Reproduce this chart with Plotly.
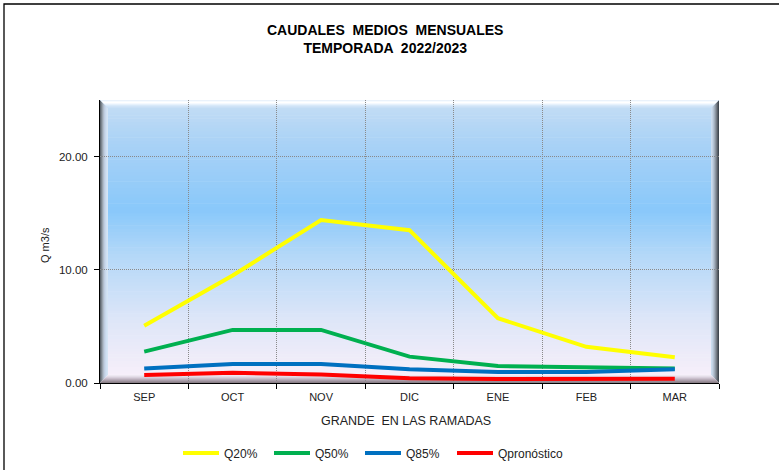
import plotly.graph_objects as go

months = ["SEP", "OCT", "NOV", "DIC", "ENE", "FEB", "MAR"]
q20 = [5.05, 9.5, 14.4, 13.5, 5.72, 3.2, 2.27]
q50 = [2.77, 4.69, 4.69, 2.33, 1.5, 1.39, 1.27]
q85 = [1.27, 1.68, 1.68, 1.21, 0.97, 0.97, 1.21]
qpron = [0.71, 0.91, 0.74, 0.41, 0.35, 0.35, 0.38]

series = [
    ("Q20%", q20, "#FFFF00", "legend"),
    ("Q50%", q50, "#00B050", "legend"),
    ("Q85%", q85, "#0070C0", "legend"),
    ("Qpronóstico", qpron, "#FF0000", "legend2"),
]

W, H = 779, 470
ML, MR, MT, MB = 100, 60, 100, 87
PW = W - ML - MR
PH = H - MT - MB

fig = go.Figure()
for name, vals, col, lg in series:
    fig.add_trace(go.Scatter(x=months, y=vals, name=name, mode="lines",
                             legend=lg, line=dict(color=col, width=4)))

# background gradient (bottom -> top)
stops = [
    (0.00, (250, 240, 250)),
    (0.22, (222, 230, 248)),
    (0.45, (180, 216, 248)),
    (0.61, (137, 200, 250)),
    (0.85, (170, 210, 246)),
    (1.00, (198, 222, 244)),
]


def interp(t):
    for (t0, c0), (t1, c1) in zip(stops[:-1], stops[1:]):
        if t0 <= t <= t1:
            f = (t - t0) / (t1 - t0)
            return "rgb(%d,%d,%d)" % tuple(round(a + (b - a) * f) for a, b in zip(c0, c1))
    return "rgb(%d,%d,%d)" % stops[-1][1]


shapes = []
N = 90
for i in range(N):
    y0 = i / N
    y1 = (i + 1) / N + 0.002
    shapes.append(dict(type="rect", xref="x domain", yref="y domain",
                       x0=0, x1=1, y0=y0, y1=min(y1, 1), layer="below",
                       line=dict(width=0), fillcolor=interp((i + 0.5) / N)))

# bevel
dx = 1.0 / PW
dy = 1.0 / PH
B = 8
left_cols = ["#5f6870", "#7c858e", "#98a3ae", "#b0bccb", "#bfcde0", "#c8d8ec", "#cfe0f2", "#d4e4f4"]
top_cols = ["#eaf2fb", "#f7fbff", "#ffffff", "#f4f9ff", "#e6f1fc", "#d8e9f9", "#cfe3f7", "#c9dff5"]
right_cols = ["#404850", "#5a6068", "#747c86", "#8c96a2", "#a2aebc", "#b4c2d2", "#c2d2e4", "#cadcee"]
bot_cols = ["#8a8088", "#9a8e98", "#aa9eaa", "#baaebb", "#cabfcc", "#d8cfdc", "#e4dde8", "#eee8f2"]
for k in range(B):
    a, b = k, k + 1
    shapes.append(dict(type="path", xref="x domain", yref="y domain", layer="below",
                       line=dict(width=0), fillcolor=left_cols[k],
                       path=f"M {a*dx},{1-a*dy} L {b*dx},{1-b*dy} L {b*dx},{b*dy} L {a*dx},{a*dy} Z"))
    shapes.append(dict(type="path", xref="x domain", yref="y domain", layer="below",
                       line=dict(width=0), fillcolor=right_cols[k],
                       path=f"M {1-a*dx},{1-a*dy} L {1-b*dx},{1-b*dy} L {1-b*dx},{b*dy} L {1-a*dx},{a*dy} Z"))
    shapes.append(dict(type="path", xref="x domain", yref="y domain", layer="below",
                       line=dict(width=0), fillcolor=top_cols[k],
                       path=f"M {a*dx},{1-a*dy} L {1-a*dx},{1-a*dy} L {1-b*dx},{1-b*dy} L {b*dx},{1-b*dy} Z"))
    shapes.append(dict(type="path", xref="x domain", yref="y domain", layer="below",
                       line=dict(width=0), fillcolor=bot_cols[k],
                       path=f"M {a*dx},{a*dy} L {1-a*dx},{a*dy} L {1-b*dx},{b*dy} L {b*dx},{b*dy} Z"))

# outer frame of the chart
shapes.append(dict(type="rect", xref="paper", yref="paper",
                   x0=(4 - ML) / PW, x1=(W + 10 - ML) / PW,
                   y0=-(H + 10 - MT - PH) / PH, y1=(PH + MT - 4) / PH,
                   line=dict(color="#000000", width=1.3), fillcolor="rgba(0,0,0,0)", layer="above"))

font_family = "Liberation Sans, Arial, sans-serif"

annotations = [
    dict(text="<b>CAUDALES  MEDIOS  MENSUALES</b><br><b>TEMPORADA  2022/2023</b>",
         xref="paper", yref="paper", x=(385 - ML) / PW, y=(MT + PH - 39) / PH,
         xanchor="center", yanchor="middle", showarrow=False,
         font=dict(family=font_family, size=14, color="#000000")),
    dict(text="GRANDE  EN LAS RAMADAS", xref="paper", yref="paper",
         x=(406 - ML) / PW, y=-(421 - MT - PH) / PH, xanchor="center", yanchor="middle",
         showarrow=False, font=dict(family=font_family, size=12.5, color="#222222")),
    dict(text="Q m3/s", xref="paper", yref="paper", textangle=-90,
         x=(45 - ML) / PW, y=(MT + PH - 245) / PH, xanchor="center", yanchor="middle",
         showarrow=False, font=dict(family=font_family, size=11, color="#222222")),
]

legend_font = dict(family=font_family, size=12, color="#222222")

fig.update_layout(
    width=W, height=H,
    margin=dict(l=ML, r=MR, t=MT, b=MB),
    paper_bgcolor="#ffffff",
    plot_bgcolor="#ffffff",
    shapes=shapes,
    annotations=annotations,
    showlegend=True,
    legend=dict(orientation="h", xref="container", yref="container",
                x=178 / W, xanchor="left", y=(H - 453) / H, yanchor="middle",
                font=legend_font, entrywidth=40, entrywidthmode="pixels",
                itemwidth=36, bgcolor="rgba(0,0,0,0)"),
    legend2=dict(orientation="h", xref="container", yref="container",
                 x=452 / W, xanchor="left", y=(H - 453) / H, yanchor="middle",
                 font=legend_font, itemwidth=36, bgcolor="rgba(0,0,0,0)"),
    xaxis=dict(type="category", range=[-0.5, 6.5], tickson="boundaries",
               ticks="outside", ticklen=5, tickcolor="#000000",
               showline=True, linecolor="#000000", linewidth=1,
               showgrid=True, gridcolor="#8a8a8a", griddash="1px,1px", gridwidth=1,
               ticklabelstandoff=4,
               tickfont=dict(family=font_family, size=11, color="#222222")),
    yaxis=dict(range=[0, 25], dtick=10, tick0=0, tickformat=".2f",
               ticks="outside", ticklen=5, tickcolor="#000000",
               showline=True, linecolor="#000000", linewidth=1,
               showgrid=True, gridcolor="#8a8a8a", griddash="1px,1px", gridwidth=1,
               zeroline=False, ticklabelstandoff=4,
               tickfont=dict(family=font_family, size=11.5, color="#222222")),
)

fig.write_html("out.html", config={"displayModeBar": False},
               post_script="document.body.style.margin='0';")
